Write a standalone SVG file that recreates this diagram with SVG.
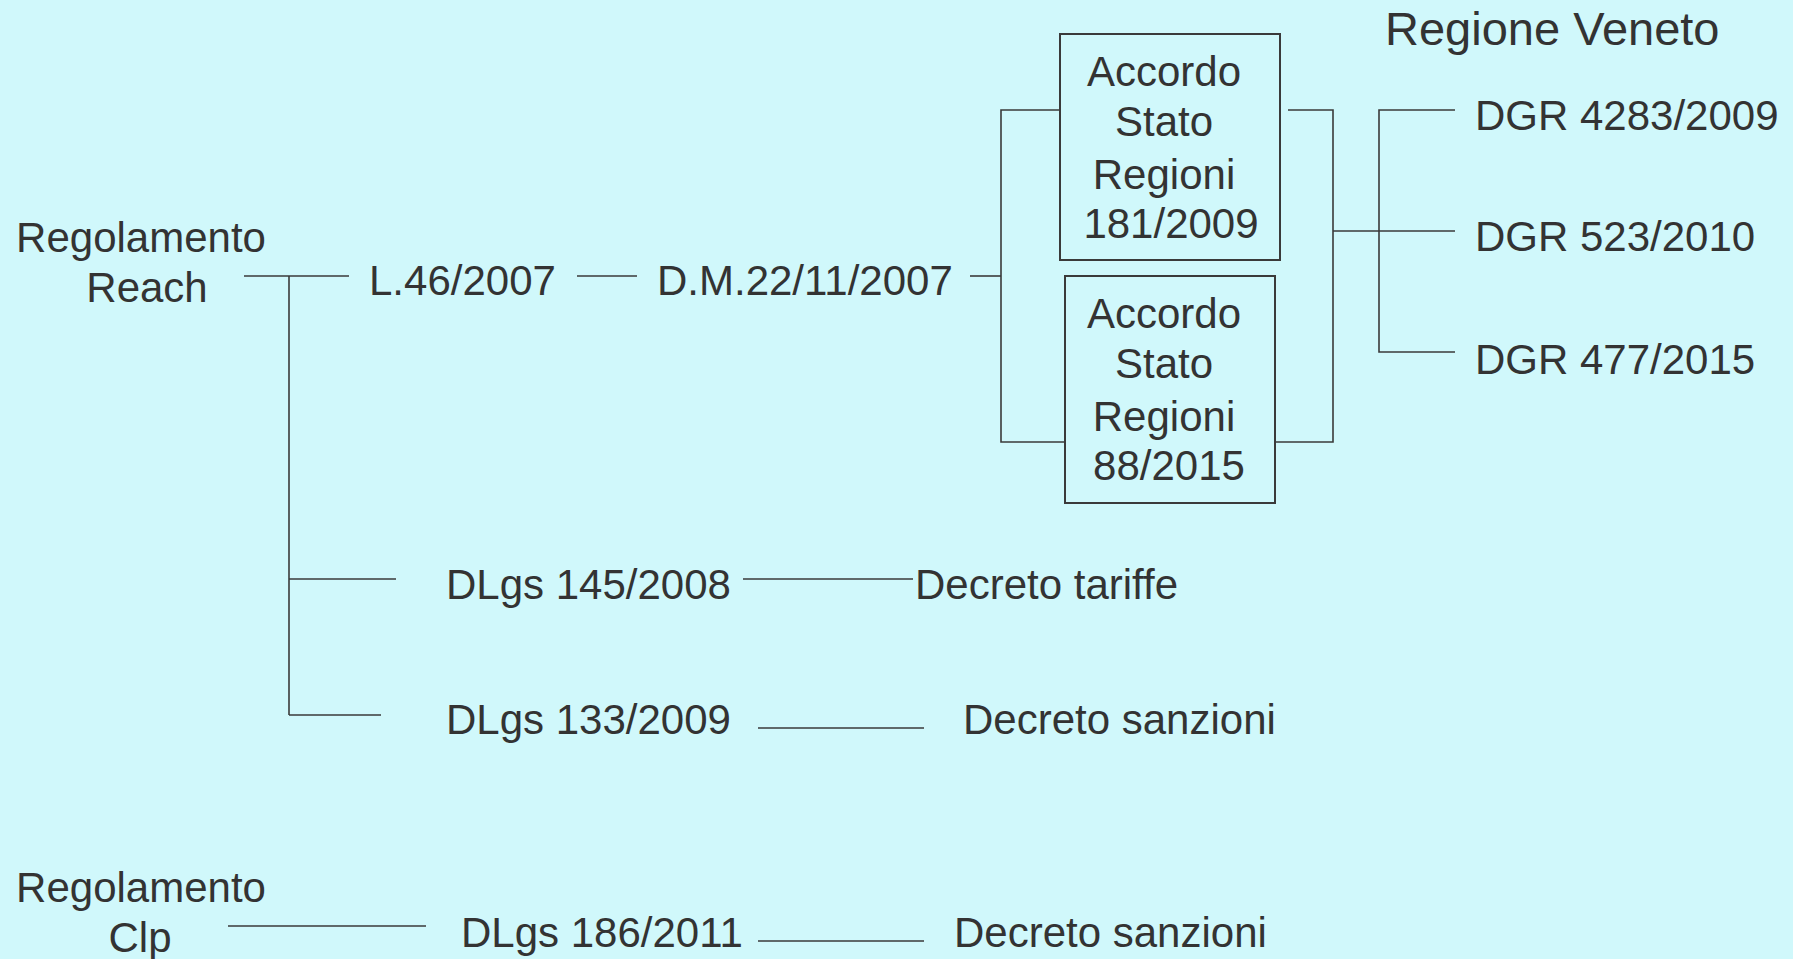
<svg xmlns="http://www.w3.org/2000/svg" width="1793" height="959" viewBox="0 0 1793 959">
<style>
text{font-family:"Liberation Sans",Arial,sans-serif;font-size:42px;fill:#333333}
.m{text-anchor:middle}
.big{font-size:47px}
.ln{stroke:#3a3a3a;stroke-width:1.6;fill:none}
.box{fill:none;stroke:#3a3a3a;stroke-width:2}
</style>
<rect width="1793" height="959" fill="#d0f8fb"/>
<g id="connectors" class="ln">
<path d="M244 276H349"/>
<path d="M289 276V715"/>
<path d="M289 579H396"/>
<path d="M289 715H381"/>
<path d="M577 276H637"/>
<path d="M970 276H1001"/>
<path d="M1060 110H1001V442H1065"/>
<path d="M1288 110H1333V442H1275"/>
<path d="M1333 231H1455"/>
<path d="M1455 110H1379V352H1455"/>
<path d="M743 579H913"/>
<path d="M758 728H924"/>
<path d="M228 926H426"/>
<path d="M758 941H924"/>
</g>
<g id="reach"><text class="m" x="141" y="252">Regolamento</text><text class="m" x="147" y="302">Reach</text></g>
<g id="l46"><text x="369" y="295">L.46/2007</text></g>
<g id="dm"><text x="657" y="295">D.M.22/11/2007</text></g>
<g id="accordo1"><rect class="box" x="1060" y="34" width="220" height="226"/>
<text class="m" x="1164" y="86">Accordo</text><text class="m" x="1164" y="136">Stato</text><text class="m" x="1164" y="189">Regioni</text><text class="m" x="1171" y="238">181/2009</text></g>
<g id="accordo2"><rect class="box" x="1065" y="276" width="210" height="227"/>
<text class="m" x="1164" y="328">Accordo</text><text class="m" x="1164" y="378">Stato</text><text class="m" x="1164" y="431">Regioni</text><text class="m" x="1169" y="480">88/2015</text></g>
<g id="veneto"><text class="big" x="1385" y="45">Regione Veneto</text></g>
<g id="dgr1"><text x="1475" y="130">DGR 4283/2009</text></g>
<g id="dgr2"><text x="1475" y="251">DGR 523/2010</text></g>
<g id="dgr3"><text x="1475" y="374">DGR 477/2015</text></g>
<g id="dlgs145"><text x="446" y="599">DLgs 145/2008</text></g>
<g id="tariffe"><text x="915" y="599">Decreto tariffe</text></g>
<g id="dlgs133"><text x="446" y="734">DLgs 133/2009</text></g>
<g id="sanzioni1"><text x="963" y="734">Decreto sanzioni</text></g>
<g id="clp"><text class="m" x="141" y="902">Regolamento</text><text class="m" x="140" y="952">Clp</text></g>
<g id="dlgs186"><text x="461" y="947">DLgs 186/2011</text></g>
<g id="sanzioni2"><text x="954" y="947">Decreto sanzioni</text></g>
</svg>
